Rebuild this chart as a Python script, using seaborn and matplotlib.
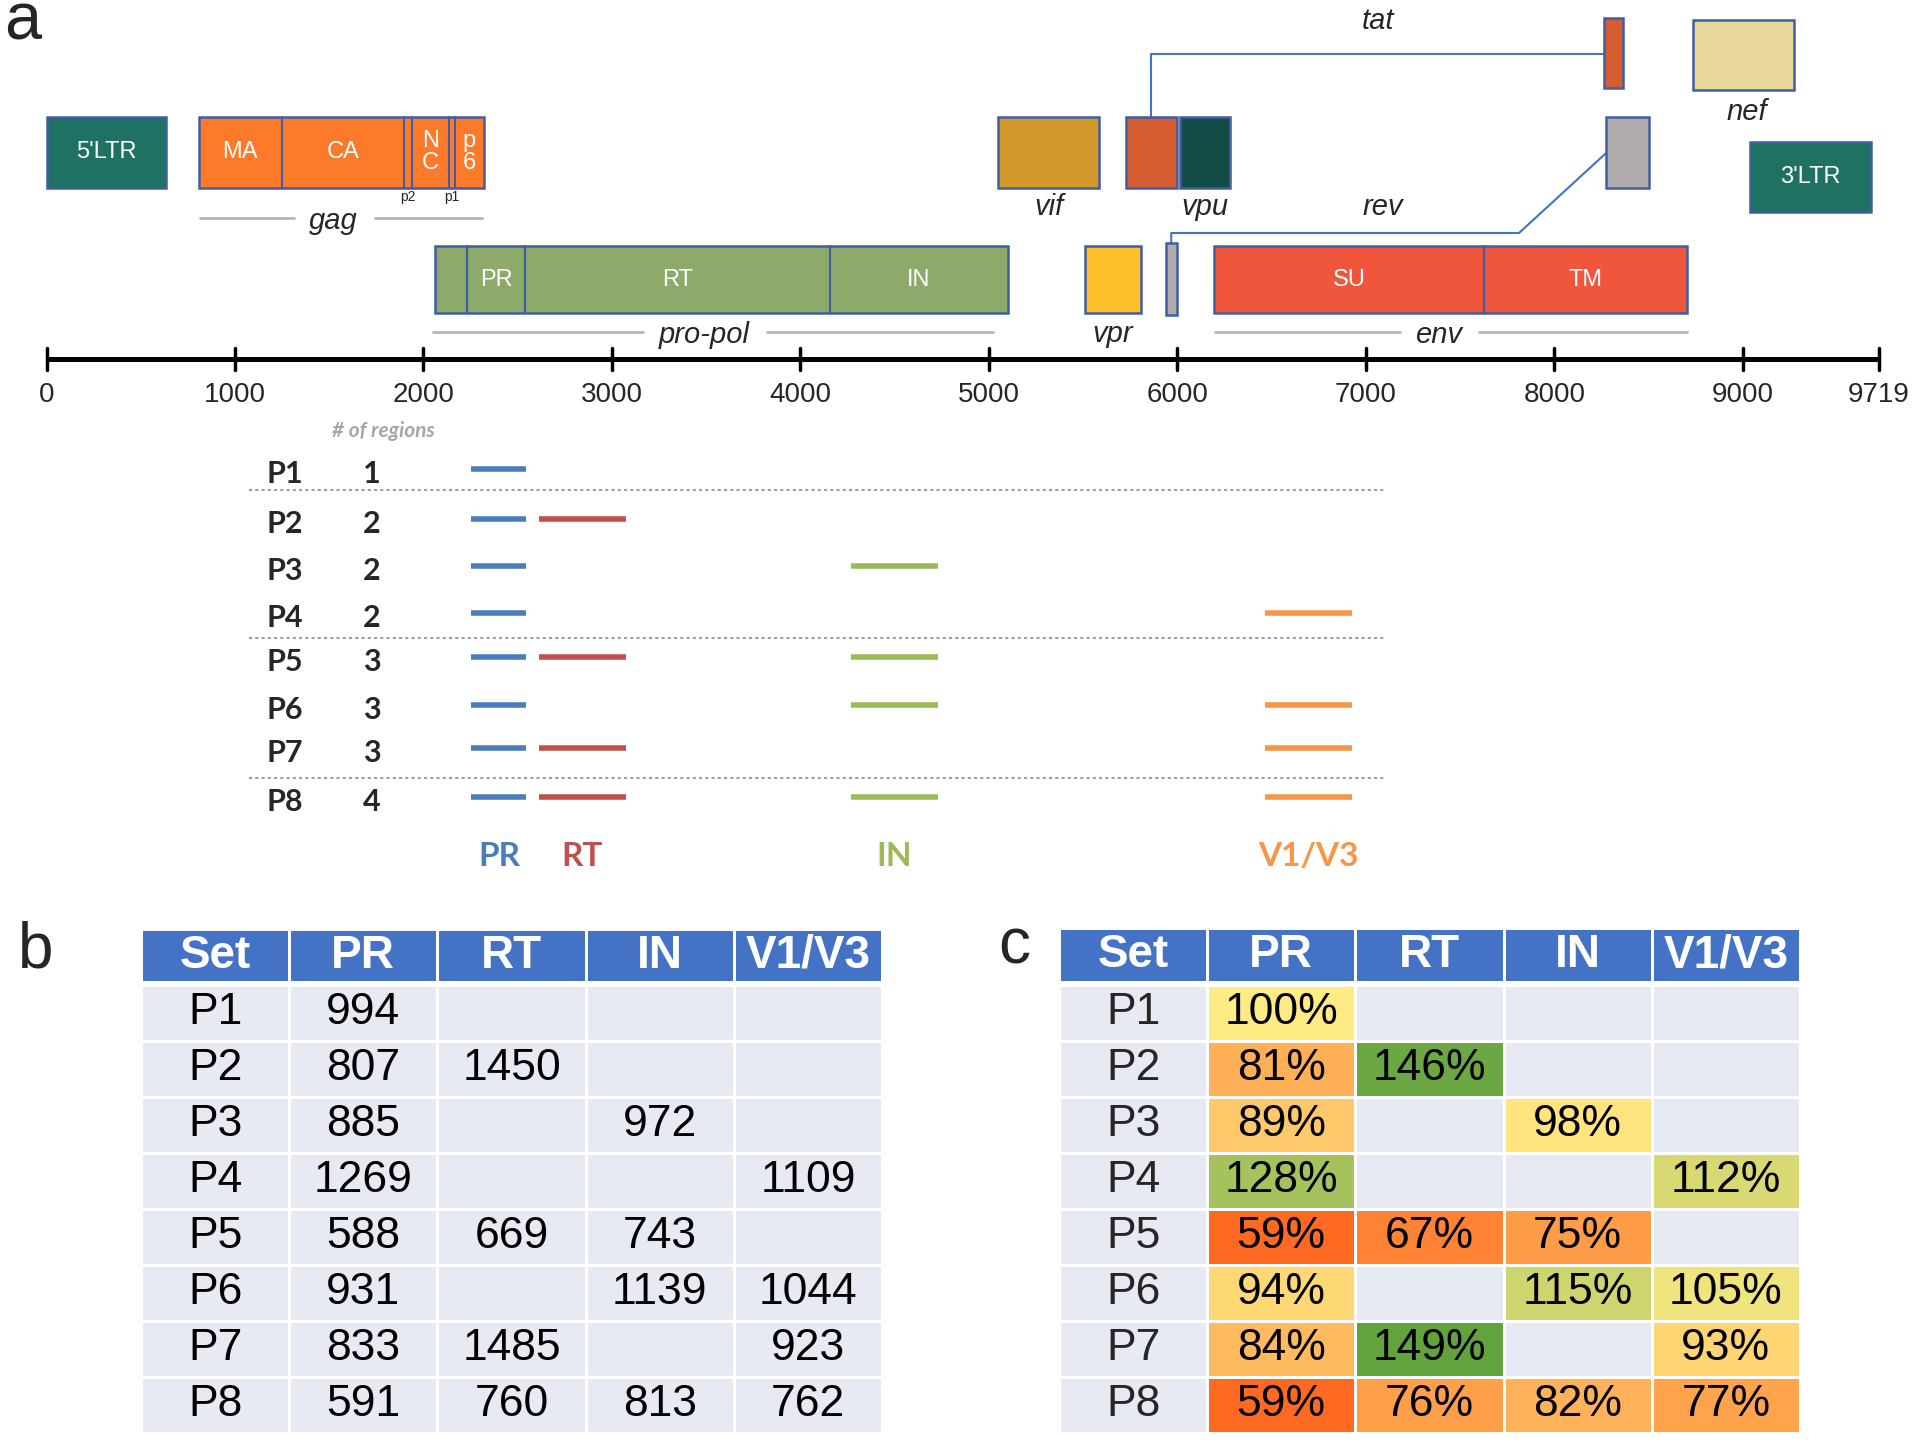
import numpy as np
import pandas as pd
import matplotlib
matplotlib.use('Agg')
import matplotlib.pyplot as plt
from matplotlib.patches import Rectangle
from matplotlib.colors import ListedColormap, LinearSegmentedColormap
import seaborn as sns

sns.set_style('white')
plt.rcParams['font.family'] = ['Liberation Sans', 'DejaVu Sans']

# genome map, positions in bp
genome_len = 9719
axis_ticks = [0, 1000, 2000, 3000, 4000, 5000, 6000, 7000, 8000, 9000, 9719]

gene_names = ["5'LTR", 'gag', 'vif', 'tat1', 'vpu', 'tat2', 'nef', 'rev2', "3'LTR", 'pol', 'vpr', 'rev1', 'env']
gene_start = [0, 809, 5048, 5727, 6014, 8263, 8736, 8274, 9037, 2060, 5512, 5938, 6194]
gene_end = [634, 2320, 5584, 5998, 6276, 8364, 9271, 8502, 9677, 5100, 5805, 5997, 8705]
gene_colors = ['#1f7262', '#fd7a2b', '#d29a2b', '#d65c32', '#134c47', '#d65c32', '#e9d699',
               '#b0acab', '#1f7262', '#8eaa6b', '#fdc02b', '#b0acab', '#ef563b']
# vertical extent (pixel rows) for each box
gene_top = [117, 117, 117, 117, 117, 18, 20, 117, 142, 246, 246, 243, 246]
gene_bot = [188, 188, 188, 188, 188, 88, 90, 188, 212, 313, 313, 315, 313]

# sub-domain borders
gag_cuts = [1248, 1898, 1940, 2135, 2167]
pol_cuts = [2232, 2541, 4156]
env_cuts = [7627]

# sequenced regions (bp) and sets
regions = ['PR', 'RT', 'IN', 'V1/V3']
region_start = [2254, 2612, 4268, 6464]
region_end = [2546, 3073, 4730, 6926]
region_colors = ['#4a7ebb', '#c0504d', '#9bbb59', '#f79646']

sets = ['P1', 'P2', 'P3', 'P4', 'P5', 'P6', 'P7', 'P8']
nan = np.nan
pr_len = [994, 807, 885, 1269, 588, 931, 833, 591]
rt_len = [nan, 1450, nan, nan, 669, nan, 1485, 760]
in_len = [nan, nan, 972, nan, 743, 1139, nan, 813]
v13_len = [nan, nan, nan, 1109, nan, 1044, 923, 762]

pr_pct = [100, 81, 89, 128, 59, 94, 84, 59]
rt_pct = [nan, 146, nan, nan, 67, nan, 149, 76]
in_pct = [nan, nan, 98, nan, 75, 115, nan, 82]
v13_pct = [nan, nan, nan, 112, nan, 105, 93, 77]

lens = pd.DataFrame({'PR': pr_len, 'RT': rt_len, 'IN': in_len, 'V1/V3': v13_len}, index=sets)
pcts = pd.DataFrame({'PR': pr_pct, 'RT': rt_pct, 'IN': in_pct, 'V1/V3': v13_pct}, index=sets)
n_regions = lens.notna().sum(axis=1)

W, H = 1920, 1444
fig = plt.figure(figsize=(19.2, 14.44), dpi=100)

# ---------- panel a ----------
scale = (1878.5 - 46.5) / genome_len
ax = fig.add_axes([0, 0, 1, 1])
ax.set_xlim(-46.5 / scale, (W - 46.5) / scale)
ax.set_ylim(H, 0)
ax.axis('off')

edge = '#3f5ea3'
for name, s, e, c, t, b in zip(gene_names, gene_start, gene_end, gene_colors, gene_top, gene_bot):
    ax.add_patch(Rectangle((s, t), e - s, b - t, facecolor=c, edgecolor=edge, lw=1.8, zorder=2))
for cut in gag_cuts:
    ax.plot([cut, cut], [117, 188], color=edge, lw=1.5, zorder=3)
for cut in pol_cuts + env_cuts:
    ax.plot([cut, cut], [246, 313], color=edge, lw=1.5, zorder=3)

# labels inside boxes
box_txt = dict(color='white', ha='center', va='center', fontsize=17, zorder=4)
ax.text(317, 152, "5'LTR", **box_txt)
ax.text(9357, 177, "3'LTR", **box_txt)
ax.text((809 + 1248) / 2, 152, 'MA', **box_txt)
ax.text((1248 + 1898) / 2, 152, 'CA', **box_txt)
ax.text((1940 + 2135) / 2, 152, 'N\nC', linespacing=0.95, **box_txt)
ax.text((2167 + 2320) / 2, 152, 'p\n6', linespacing=0.95, **box_txt)
ax.text((2232 + 2541) / 2, 280, 'PR', **box_txt)
ax.text((2541 + 4156) / 2, 280, 'RT', **box_txt)
ax.text((4156 + 5100) / 2, 280, 'IN', **box_txt)
ax.text((6194 + 7627) / 2, 280, 'SU', **box_txt)
ax.text((7627 + 8705) / 2, 280, 'TM', **box_txt)
ax.text(1919, 197, 'p2', fontsize=10, ha='center', va='center')
ax.text(2151, 197, 'p1', fontsize=10, ha='center', va='center')

# gene name labels, with gray span lines that break around the text
lab = dict(style='italic', fontsize=21, ha='center', va='center', zorder=4)
spans = [('gag', 815, 2310, 218, 1524, 211, 218),
         ('pro-pol', 2050, 5019, 332, 3488, 323, 335),
         ('env', 6200, 8705, 332, 7385, 206, 213)]
for txt, s, e, y, cx, gl, gr in spans:
    ax.plot([s, cx - gl], [y, y], color='#b5b5b5', lw=2, zorder=1)
    ax.plot([cx + gr, e], [y, y], color='#b5b5b5', lw=2, zorder=1)
    ax.text(cx, y + 3, txt, **lab)
ax.text(5659, 334, 'vpr', **lab)
ax.text(5316, 207, 'vif', **lab)
ax.text(6146, 207, 'vpu', **lab)
ax.text(7087, 207, 'rev', **lab)
ax.text(7064, 21, 'tat', **lab)
ax.text(9021, 112, 'nef', **lab)

# tat / rev splice connectors
ax.plot([5862, 5862, 8263], [117, 54, 54], color='#4472c4', lw=1.5, zorder=1)
ax.plot([5967, 5967, 7812, 8274], [243, 233, 233, 153], color='#4472c4', lw=1.5, zorder=1)

# genome axis
ax.plot([0, genome_len], [359, 359], color='black', lw=3.6, solid_capstyle='butt')
for t in axis_ticks:
    ax.plot([t, t], [348, 370], color='black', lw=2.5)
    ax.text(t, 402, str(t), fontsize=20, ha='center', va='baseline')

# region coverage per set
row_y = [469, 519, 566, 613, 657, 705, 748, 797]
sep_y = [490, 638, 778]
calibri = ['Lato', 'DejaVu Sans']
ax.text(1785, 431, '# of regions', color='#a6a6a6', fontsize=15, fontweight='bold',
        style='italic', ha='center', va='center', family=calibri)
for i, s in enumerate(sets):
    ax.text(1265, row_y[i] + 5, s, fontsize=22, fontweight='bold', ha='center', va='center',
            family=calibri)
    ax.text(1727, row_y[i] + 5, str(n_regions[s]), fontsize=22, fontweight='bold',
            ha='center', va='center', family=calibri)
    for j, r in enumerate(regions):
        if not np.isnan(lens.loc[s, r]):
            ax.plot([region_start[j], region_end[j]], [row_y[i], row_y[i]],
                    color=region_colors[j], lw=4, solid_capstyle='butt')
k = 0
for i in range(1, len(sets)):
    if n_regions.iloc[i] != n_regions.iloc[i - 1]:
        ax.plot([1073, 7094], [sep_y[k]] * 2, color='#a0a0a0', lw=1.5, ls=(0, (1.5, 1.5)))
        k += 1
for j, r in enumerate(regions):
    ax.text((region_start[j] + region_end[j]) / 2, 857, r, color=region_colors[j],
            fontsize=24, fontweight='bold', ha='center', va='center', family=calibri)

# panel letters
ax.text((4 - 46.5) / scale, 40, 'a', fontsize=48, va='baseline')
ax.text((18 - 46.5) / scale, 967, 'b', fontsize=46, va='baseline')
ax.text((998 - 46.5) / scale, 964, 'c', fontsize=46, va='baseline')


# ---------- tables b and c ----------
def fig_axes(x0, y0, x1, y1):
    return fig.add_axes([x0 / W, 1 - y1 / H, (x1 - x0) / W, (y1 - y0) / H])


headers = ['Set'] + regions
cell_bg = '#e8eaf3'
grid_lw = 1.8
head_kw = dict(cmap=ListedColormap(['#4472c4']), cbar=False, linewidths=grid_lw, linecolor='white',
               xticklabels=False, yticklabels=False, fmt='',
               annot_kws={'size': 33, 'weight': 'bold', 'color': 'white'})


def fmt_len(v):
    return '' if np.isnan(v) else str(int(v))


def fmt_pct(v):
    return '' if np.isnan(v) else f'{int(v)}%'


# b: lengths
axh = fig_axes(141, 929, 882, 982)
sns.heatmap(np.zeros((1, 5)), annot=np.array([headers]), ax=axh, **head_kw)
axb = fig_axes(141, 985, 882, 1433)
annot_b = np.column_stack([np.array(sets)] + [lens[r].map(fmt_len).values for r in regions])
sns.heatmap(np.zeros((8, 5)), annot=annot_b, fmt='', cmap=ListedColormap([cell_bg]), cbar=False,
            linewidths=grid_lw, linecolor='white', xticklabels=False, yticklabels=False,
            annot_kws={'size': 32, 'color': 'black'}, ax=axb)

# c: relative percentages
axh2 = fig_axes(1059, 928, 1800, 982)
sns.heatmap(np.zeros((1, 5)), annot=np.array([headers]), ax=axh2, **head_kw)
axc = fig_axes(1059, 985, 1800, 1433)
vmin, vmax = 59, 149
cmap_c = LinearSegmentedColormap.from_list(
    'xl', [(0, '#ff6a22'), ((100 - vmin) / (vmax - vmin), '#ffeb84'), (1, '#62a33e')])
cmap_c.set_bad(cell_bg)
vals_c = pcts.copy()
vals_c.insert(0, 'Set', nan)
annot_c = np.column_stack([np.array(sets)] + [pcts[r].map(fmt_pct).values for r in regions])
axc.set_facecolor(cell_bg)
sns.heatmap(vals_c.values, annot=annot_c, fmt='', cmap=cmap_c, vmin=vmin, vmax=vmax, cbar=False,
            linewidths=grid_lw, linecolor='white', xticklabels=False, yticklabels=False,
            annot_kws={'size': 32, 'color': 'black'}, ax=axc)
for i, s in enumerate(sets):
    axc.text(0.5, i + 0.5, s, fontsize=32, ha='center', va='center')

fig.savefig('out.png', dpi=100)
